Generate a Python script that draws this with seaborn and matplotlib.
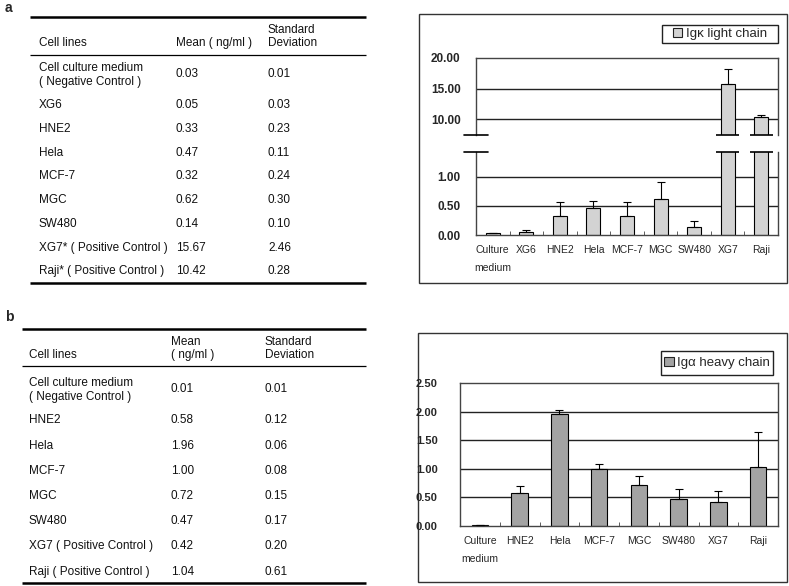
import numpy as np
import pandas as pd
import seaborn as sns
import matplotlib.pyplot as plt
from matplotlib.patches import Patch, Rectangle
from matplotlib.ticker import FormatStrFormatter

# data: panel a (Igk light chain)
a_rows = ["Cell culture medium\n( Negative Control )", "XG6", "HNE2", "Hela", "MCF-7",
          "MGC", "SW480", "XG7* ( Positive Control )", "Raji* ( Positive Control )"]
a_cats = ["Culture\nmedium", "XG6", "HNE2", "Hela", "MCF-7", "MGC", "SW480", "XG7", "Raji"]
a_mean = [0.03, 0.05, 0.33, 0.47, 0.32, 0.62, 0.14, 15.67, 10.42]
a_sd = [0.01, 0.03, 0.23, 0.11, 0.24, 0.30, 0.10, 2.46, 0.28]

# data: panel b (Iga heavy chain)
b_rows = ["Cell culture medium\n( Negative Control )", "HNE2", "Hela", "MCF-7", "MGC",
          "SW480", "XG7 ( Positive Control )", "Raji ( Positive Control )"]
b_cats = ["Culture\nmedium", "HNE2", "Hela", "MCF-7", "MGC", "SW480", "XG7", "Raji"]
b_mean = [0.01, 0.58, 1.96, 1.00, 0.72, 0.47, 0.42, 1.04]
b_sd = [0.01, 0.12, 0.06, 0.08, 0.15, 0.17, 0.20, 0.61]

sns.set_style("white")
plt.rcParams["font.family"] = ["Liberation Sans", "DejaVu Sans"]

W, H = 789, 586
fig = plt.figure(figsize=(W / 100, H / 100), dpi=100)


def fbox(l, t, r, b):
    return [l / W, 1 - b / H, (r - l) / W, (b - t) / H]


# background axes in pixel coordinates for tables and frames
bg = fig.add_axes([0, 0, 1, 1])
bg.set_xlim(0, W)
bg.set_ylim(H, 0)
bg.axis("off")

TXT = dict(fontsize=8.5, va="center", color="#111111", linespacing=1.25)


def draw_table(x0, x1, cols, top, head_line, bottom, rows, means, sds, row_y, header):
    bg.hlines([top, bottom], x0, x1, color="black", lw=1.8)
    bg.hlines(head_line, x0, x1, color="black", lw=0.9)
    for (x, y, s) in header:
        bg.text(x, y, s, **TXT)
    for name, m, s, y in zip(rows, means, sds, row_y):
        bg.text(cols[0], y + (1 if "\n" in name else 0), name, **TXT)
        bg.text(cols[1], y, f"{m:.2f}", **TXT)
        bg.text(cols[2], y, f"{s:.2f}", **TXT)


bg.text(5, 8, "a", fontsize=10, fontweight="bold", va="center")
draw_table(30, 366, (39, 176, 268), 17, 55, 283, a_rows, a_mean, a_sd,
           [74, 105, 129, 153, 176, 200, 224, 248, 271],
           [(39, 43, "Cell lines"), (176, 43, "Mean ( ng/ml )"),
            (268, 30, "Standard"), (268, 43, "Deviation")])

bg.text(5, 317, "b", fontsize=10, fontweight="bold", va="center")
draw_table(22, 366, (29, 171, 265), 329, 366, 583, b_rows, b_mean, b_sd,
           [389, 420, 446, 471, 496, 521, 546, 572],
           [(29, 355, "Cell lines"), (171, 342, "Mean"), (171, 355, "( ng/ml )"),
            (265, 342, "Standard"), (265, 355, "Deviation")])

# outer frames of the charts
bg.add_patch(Rectangle((419, 14), 368, 269, fill=False, lw=1, ec="#333333"))
bg.add_patch(Rectangle((418, 333), 369, 249, fill=False, lw=1, ec="#333333"))

SP = "#444444"


def bars(ax, cats, means, sds, color, ylim, ticks, ysize=8.5, ypad=11, xlabels=True):
    df = pd.DataFrame({"cat": cats, "mean": means})
    n = len(cats)
    sns.barplot(data=df, x="cat", y="mean", color=color, saturation=1, width=0.42,
                edgecolor="black", linewidth=0.8, errorbar=None, ax=ax, zorder=2)
    ax.errorbar(np.arange(n), means, yerr=[np.zeros(n), sds], fmt="none",
                ecolor="black", elinewidth=0.8, capsize=3, capthick=0.8, zorder=3)
    ax.set_ylim(*ylim)
    ax.set_xlim(-0.5, n - 0.5)
    ax.set_yticks(ticks)
    ax.yaxis.set_major_formatter(FormatStrFormatter("%.2f"))
    for t in ticks:
        if ylim[0] < t < ylim[1]:
            ax.axhline(t, color="#222222", lw=1, zorder=1)
    ax.set_xlabel("")
    ax.set_ylabel("")
    ax.set_facecolor("none")
    ax.tick_params(axis="y", length=0, pad=ypad, labelsize=ysize)
    for lbl in ax.get_yticklabels():
        lbl.set_fontweight("bold")
    ax.set_xticks(np.arange(n) + 0.5, minor=True)
    ax.tick_params(axis="x", which="major", length=0, pad=7, labelsize=7.5)
    ax.tick_params(axis="x", which="minor", direction="in", length=3, color=SP,
                   bottom=xlabels)
    if xlabels:
        for lbl in ax.get_xticklabels():
            lbl.set_linespacing(2.0)
            lbl.set_verticalalignment("top")
    else:
        ax.tick_params(axis="x", which="both", bottom=False, labelbottom=False)
    for s in ax.spines.values():
        s.set_color(SP)
        s.set_linewidth(1)


def legend_box(l, t, r, b, label, color):
    bg.add_patch(Rectangle((l, t), r - l, b - t, fill=False, lw=1, ec="#222222"))
    fig.legend(handles=[Patch(facecolor=color, edgecolor="#222222", lw=0.8, label=label)],
               loc="center", bbox_to_anchor=((l + r) / 2 / W, 1 - (t + b) / 2 / H),
               frameon=False, fontsize=9.5, handlelength=0.75, handleheight=0.75,
               handletextpad=0.3, borderaxespad=0)


# panel a: broken axis
A_COL = "#d3d3d3"
lo_lim = (0, 1.43)
up_lim = (7.4, 20)
ax_up = fig.add_axes(fbox(476, 58, 778, 135))
ax_lo = fig.add_axes(fbox(476, 152, 778, 235))
bars(ax_up, a_cats, a_mean, a_sd, A_COL, up_lim, [10, 15, 20], xlabels=False)
bars(ax_lo, a_cats, a_mean, a_sd, A_COL, lo_lim, [0, 0.5, 1.0])
ax_up.spines["bottom"].set_visible(False)
ax_lo.spines["top"].set_visible(False)
for ax, yv in ((ax_up, 0), (ax_lo, 1)):
    ax.plot([-0.04, 0.04], [yv, yv], transform=ax.transAxes, color="black",
            lw=1.2, clip_on=False, zorder=4)
for i, m in enumerate(a_mean):
    if m > lo_lim[1]:
        ax_lo.hlines(lo_lim[1], i - 0.34, i + 0.34, color="black", lw=1.2,
                     clip_on=False, zorder=4)
        ax_up.hlines(up_lim[0], i - 0.34, i + 0.34, color="black", lw=1.2,
                     clip_on=False, zorder=4)
legend_box(662, 25, 778, 43, "Ig\u03ba light chain", A_COL)

# panel b
B_COL = "#a3a3a3"
ax_b = fig.add_axes(fbox(460, 383, 778, 526))
bars(ax_b, b_cats, b_mean, b_sd, B_COL, (0, 2.5), [0, 0.5, 1.0, 1.5, 2.0, 2.5],
     ysize=8, ypad=16)
legend_box(661, 351, 773, 375, "Ig\u03b1 heavy chain", B_COL)

fig.savefig("out.png", dpi=100)
